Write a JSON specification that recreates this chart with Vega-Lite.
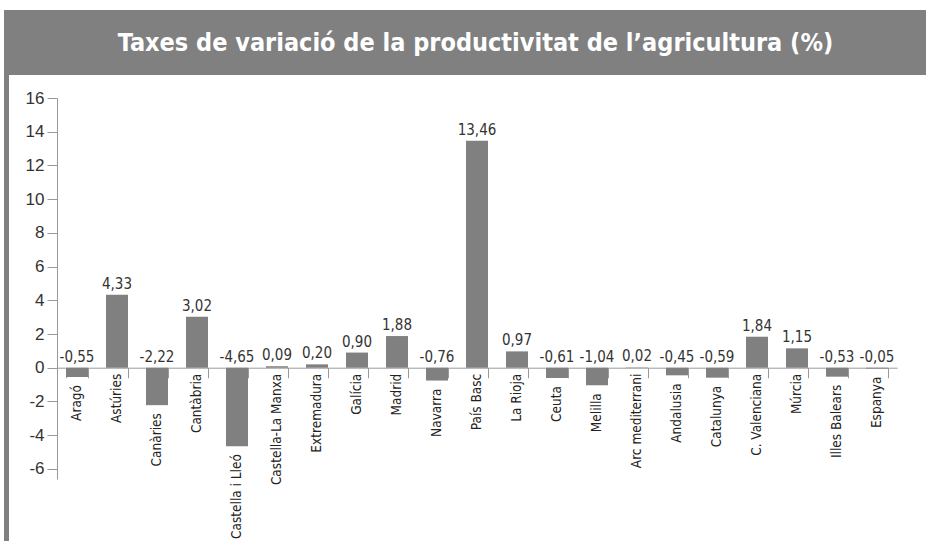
{
  "$schema": "https://vega.github.io/schema/vega-lite/v6.json",
  "background": "white",
  "padding": {"left": 4, "top": 10, "right": 0, "bottom": 0},
  "config": {
    "view": {"stroke": null},
    "concat": {"spacing": 0},
    "axisY": {"values": [-6, -4, -2, 0, 2, 4, 6, 8, 10, 12, 14, 16], "labelExpr": "replace(datum.label, '\u2212', '-')", "labelOverlap": false, "title": null, "grid": false, "tickSize": 10, "tickColor": "#999", "domainColor": "#999", "labelFont": "Liberation Sans, Arial, sans-serif", "labelFontSize": 17, "labelColor": "#333", "labelPadding": 3}
  },
  "datasets": {
    "d": [
      {"r": "Aragó", "v": -0.55, "lab": "-0,55"},
      {"r": "Astúries", "v": 4.33, "lab": "4,33"},
      {"r": "Canàries", "v": -2.22, "lab": "-2,22"},
      {"r": "Cantàbria", "v": 3.02, "lab": "3,02"},
      {"r": "Castella i Lleó", "v": -4.65, "lab": "-4,65"},
      {"r": "Castella-La Manxa", "v": 0.09, "lab": "0,09"},
      {"r": "Extremadura", "v": 0.20, "lab": "0,20"},
      {"r": "Galícia", "v": 0.90, "lab": "0,90"},
      {"r": "Madrid", "v": 1.88, "lab": "1,88"},
      {"r": "Navarra", "v": -0.76, "lab": "-0,76"},
      {"r": "País Basc", "v": 13.46, "lab": "13,46"},
      {"r": "La Rioja", "v": 0.97, "lab": "0,97"},
      {"r": "Ceuta", "v": -0.61, "lab": "-0,61"},
      {"r": "Melilla", "v": -1.04, "lab": "-1,04"},
      {"r": "Arc mediterrani", "v": 0.02, "lab": "0,02"},
      {"r": "Andalusia", "v": -0.45, "lab": "-0,45"},
      {"r": "Catalunya", "v": -0.59, "lab": "-0,59"},
      {"r": "C. Valenciana", "v": 1.84, "lab": "1,84"},
      {"r": "Múrcia", "v": 1.15, "lab": "1,15"},
      {"r": "Illes Balears", "v": -0.53, "lab": "-0,53"},
      {"r": "Espanya", "v": -0.05, "lab": "-0,05"}
    ]
  },
  "hconcat": [
    {
      "width": 5,
      "height": 531,
      "view": {"fill": "#808080", "stroke": null},
      "data": {"values": [{"t": ""}]},
      "mark": {"type": "text"},
      "encoding": {"text": {"field": "t"}}
    },
    {
      "spacing": 14,
      "vconcat": [
        {
          "width": 917,
          "height": 65,
          "view": {"fill": "#808080", "stroke": null},
          "data": {"values": [{"t": "Taxes de variació de la productivitat de l’agricultura (%)"}]},
          "mark": {"type": "text", "font": "DejaVu Sans Condensed, sans-serif", "fontWeight": "bold", "fontSize": 25, "color": "white", "dx": 8},
          "encoding": {"text": {"field": "t"}}
        },
        {
          "spacing": 0,
          "hconcat": [
            {
              "width": 16,
              "height": 10,
              "data": {"values": [{"t": ""}]},
              "mark": {"type": "text"},
              "encoding": {"text": {"field": "t"}}
            },
            {
              "width": 840,
              "height": 381,
              "data": {"name": "d"},
              "encoding": {
                "x": {
                  "field": "r", "type": "nominal", "sort": null,
                  "scale": {"paddingInner": 0.45, "paddingOuter": 0.225},
                  "axis": {"orient": "bottom", "offset": -111.3, "labels": false, "title": null, "tickBand": "extent", "tickSize": 10, "tickColor": "#999", "domainColor": "#999", "domainWidth": 1}
                }
              },
              "layer": [
                {
                  "mark": {"type": "bar", "color": "#808080"},
                  "encoding": {
                    "y": {
                      "field": "v", "type": "quantitative",
                      "scale": {"domain": [-6.6, 16], "nice": false, "zero": false}
                    }
                  }
                },
                {
                  "transform": [{"filter": "datum.v >= 0"}],
                  "mark": {"type": "text", "font": "DejaVu Sans Condensed, sans-serif", "fontSize": 15, "color": "#333", "baseline": "bottom", "dy": -3},
                  "encoding": {"y": {"field": "v", "type": "quantitative"}, "text": {"field": "lab"}}
                },
                {
                  "transform": [{"filter": "datum.v < 0"}],
                  "mark": {"type": "text", "font": "DejaVu Sans Condensed, sans-serif", "fontSize": 15, "color": "#333", "baseline": "bottom", "dy": -3},
                  "encoding": {"y": {"datum": 0, "type": "quantitative"}, "text": {"field": "lab"}}
                },
                {
                  "transform": [{"filter": "datum.v < 0"}],
                  "mark": {"type": "text", "font": "DejaVu Sans Condensed, sans-serif", "fontSize": 13.5, "color": "#222", "angle": 270, "align": "right", "baseline": "middle", "dx": -8},
                  "encoding": {"y": {"field": "v", "type": "quantitative"}, "text": {"field": "r"}}
                },
                {
                  "transform": [{"filter": "datum.v >= 0"}],
                  "mark": {"type": "text", "font": "DejaVu Sans Condensed, sans-serif", "fontSize": 13.5, "color": "#222", "angle": 270, "align": "right", "baseline": "middle", "dx": -6},
                  "encoding": {"y": {"datum": 0, "type": "quantitative"}, "text": {"field": "r"}}
                }
              ]
            }
          ]
        }
      ]
    }
  ]
}
